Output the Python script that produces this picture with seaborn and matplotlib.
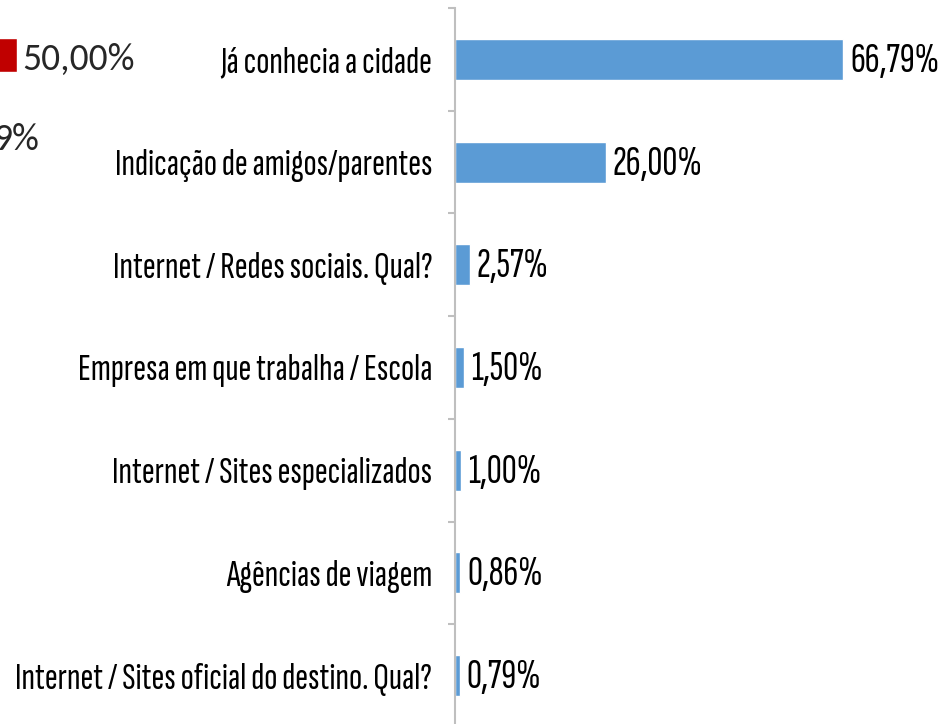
import matplotlib
matplotlib.use("Agg")
import matplotlib.pyplot as plt
import seaborn as sns
import pandas as pd
from matplotlib.ticker import FixedLocator, NullLocator

categories = [
    "Já conhecia a cidade",
    "Indicação de amigos/parentes",
    "Internet / Redes sociais. Qual?",
    "Empresa em que trabalha / Escola",
    "Internet / Sites especializados",
    "Agências de viagem",
    "Internet / Sites oficial do destino. Qual?",
]
values = [66.79, 26.00, 2.57, 1.50, 1.00, 0.86, 0.79]
value_labels = ["66,79%", "26,00%", "2,57%", "1,50%", "1,00%", "0,86%", "0,79%"]

# fragments of a neighbouring chart cut off at the left edge
frag_values = [50.00]
frag_labels = ["50,00%", "9%"]

sns.set_theme(style="white")
FONT = ["Sofia Sans Extra Condensed", "DejaVu Sans"]
FRAG_FONT = ["Carlito", "DejaVu Sans"]
plt.rcParams["font.family"] = FONT
FS = 28
FS_VAL = 30

W, H = 939, 724
fig = plt.figure(figsize=(W / 100, H / 100), dpi=100)

ax_left_px, ax_top_px = 455, 8
xmax = 80
px_per_unit = 388 / 66.79
ax_w_px = xmax * px_per_unit
ax_h_px = 7 * 102.7
ax = fig.add_axes([ax_left_px / W, (H - ax_top_px - ax_h_px) / H, ax_w_px / W, ax_h_px / H])

df = pd.DataFrame({"cat": categories, "val": values})
sns.barplot(data=df, y="cat", x="val", orient="h", color="#5B9BD5", saturation=1,
            width=0.40, ax=ax)

ax.set_xlim(0, xmax)
ax.set_ylim(6.5, -0.5)
ax.set_xlabel("")
ax.set_ylabel("")
ax.xaxis.set_major_locator(NullLocator())
for s in ["top", "right", "bottom"]:
    ax.spines[s].set_visible(False)
ax.spines["left"].set_color("#BFBFBF")
ax.spines["left"].set_linewidth(1.5)

ax.yaxis.set_major_locator(FixedLocator(range(len(categories))))
ax.set_yticklabels(categories, fontsize=FS, color="#000000")
ax.tick_params(axis="y", which="major", length=0, pad=16.5)
ax.yaxis.set_minor_locator(FixedLocator([i - 0.5 for i in range(len(categories) + 1)]))
ax.tick_params(axis="y", which="minor", length=5, width=1.5, color="#BFBFBF", left=True)

for i, (v, lab) in enumerate(zip(values, value_labels)):
    ax.annotate(lab, xy=(v, i), xytext=(5, -1.5), textcoords="offset points",
                va="center", ha="left", fontsize=FS_VAL, color="#000000")

# cut-off neighbouring chart fragment
ax2 = fig.add_axes([0, (H - 4 - 102.7) / H, 17 / W, 102.7 / H])
ax2.barh([0], frag_values, height=0.33, color="#C00000")
ax2.set_xlim(frag_values[0] - 3, frag_values[0])
ax2.set_ylim(0.5, -0.5)
ax2.axis("off")
fig.text(22 / W, 1 - 59 / H, frag_labels[0], fontsize=27, va="center", ha="left", family=FRAG_FONT)
fig.text(39 / W, 1 - 139 / H, frag_labels[1], fontsize=27, va="center", ha="right", family=FRAG_FONT)

fig.savefig("out.png", dpi=100)
